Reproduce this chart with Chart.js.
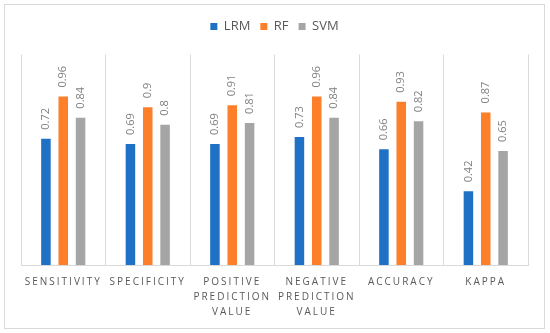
<!DOCTYPE html>
<html>
<head>
<meta charset="utf-8">
<script src="https://cdn.jsdelivr.net/npm/chart.js@4/dist/chart.umd.min.js"></script>
<style>
  html, body { margin: 0; padding: 0; background: #fff; }
  #wrap { width: 550px; height: 333px; position: relative; }
</style>
</head>
<body>
<div id="wrap"><canvas id="chart"></canvas></div>
<script>
const categories = [
  "SENSITIVITY",
  "SPECIFICITY",
  ["POSITIVE", "PREDICTION", "VALUE"],
  ["NEGATIVE", "PREDICTION", "VALUE"],
  "ACCURACY",
  "KAPPA"
];
const lrm = [0.72, 0.69, 0.69, 0.73, 0.66, 0.42];
const rf = [0.96, 0.9, 0.91, 0.96, 0.93, 0.87];
const svm = [0.84, 0.8, 0.81, 0.84, 0.82, 0.65];

// Rahmen um das ganze Diagramm + gedrehte Wertebeschriftung
const decorPlugin = {
  id: "decor",
  beforeInit(chart) {
    // etwas mehr Abstand unter der Legende
    const fit = chart.legend.fit;
    chart.legend.fit = function () {
      fit.call(this);
      this.height += 11.5;
    };
  },
  beforeDraw(chart) {
    const ctx = chart.ctx;
    ctx.save();
    ctx.strokeStyle = "#d9d9d9";
    ctx.lineWidth = 1;
    ctx.strokeRect(4.5, 4.5, 540, 324);
    ctx.restore();
  },
  afterDatasetsDraw(chart) {
    const ctx = chart.ctx;
    ctx.save();
    ctx.letterSpacing = "0px";
    ctx.font = "11px 'Open Sans'";
    ctx.fillStyle = "#808080";
    ctx.textAlign = "left";
    ctx.textBaseline = "middle";
    chart.data.datasets.forEach((ds, i) => {
      chart.getDatasetMeta(i).data.forEach((bar, j) => {
        ctx.save();
        ctx.translate(bar.x, bar.y - 9);
        ctx.rotate(-Math.PI / 2);
        ctx.fillText(String(ds.data[j]), 0, 0);
        ctx.restore();
      });
    });
    ctx.restore();
    // Achsenbeschriftung mit Sperrung (Ticks werden danach gezeichnet, z: 1)
    ctx.letterSpacing = "2px";
  },
  afterDraw(chart) {
    chart.ctx.letterSpacing = "0px";
  }
};

new Chart(document.getElementById("chart"), {
  type: "bar",
  data: {
    labels: categories,
    datasets: [
      { label: "LRM", data: lrm, backgroundColor: "#1f71c6" },
      { label: "RF", data: rf, backgroundColor: "#fd7f2a" },
      { label: "SVM", data: svm, backgroundColor: "#a5a5a5" }
    ]
  },
  options: {
    responsive: true,
    maintainAspectRatio: false,
    animation: false,
    categoryPercentage: 0.615,
    barPercentage: 0.55,
    layout: { padding: { left: 21, right: 22, top: 10, bottom: 3 } },
    plugins: {
      tooltip: { enabled: false },
      legend: {
        position: "top",
        align: "center",
        labels: {
          boxWidth: 7,
          boxHeight: 7,
          padding: 10,
          color: "#595959",
          font: { family: "'Open Sans'", size: 13 }
        }
      }
    },
    scales: {
      x: {
        grid: { color: "#d9d9d9", offset: true, drawTicks: false },
        border: { color: "#d9d9d9" },
        ticks: {
          z: 1,
          color: "#595959",
          padding: 10,
          maxRotation: 0,
          autoSkip: false,
          font: { family: "'Open Sans'", size: 10, lineHeight: 1.5 }
        }
      },
      y: {
        display: false,
        min: 0,
        max: 1.2
      }
    }
  },
  plugins: [decorPlugin]
});
</script>
</body>
</html>
